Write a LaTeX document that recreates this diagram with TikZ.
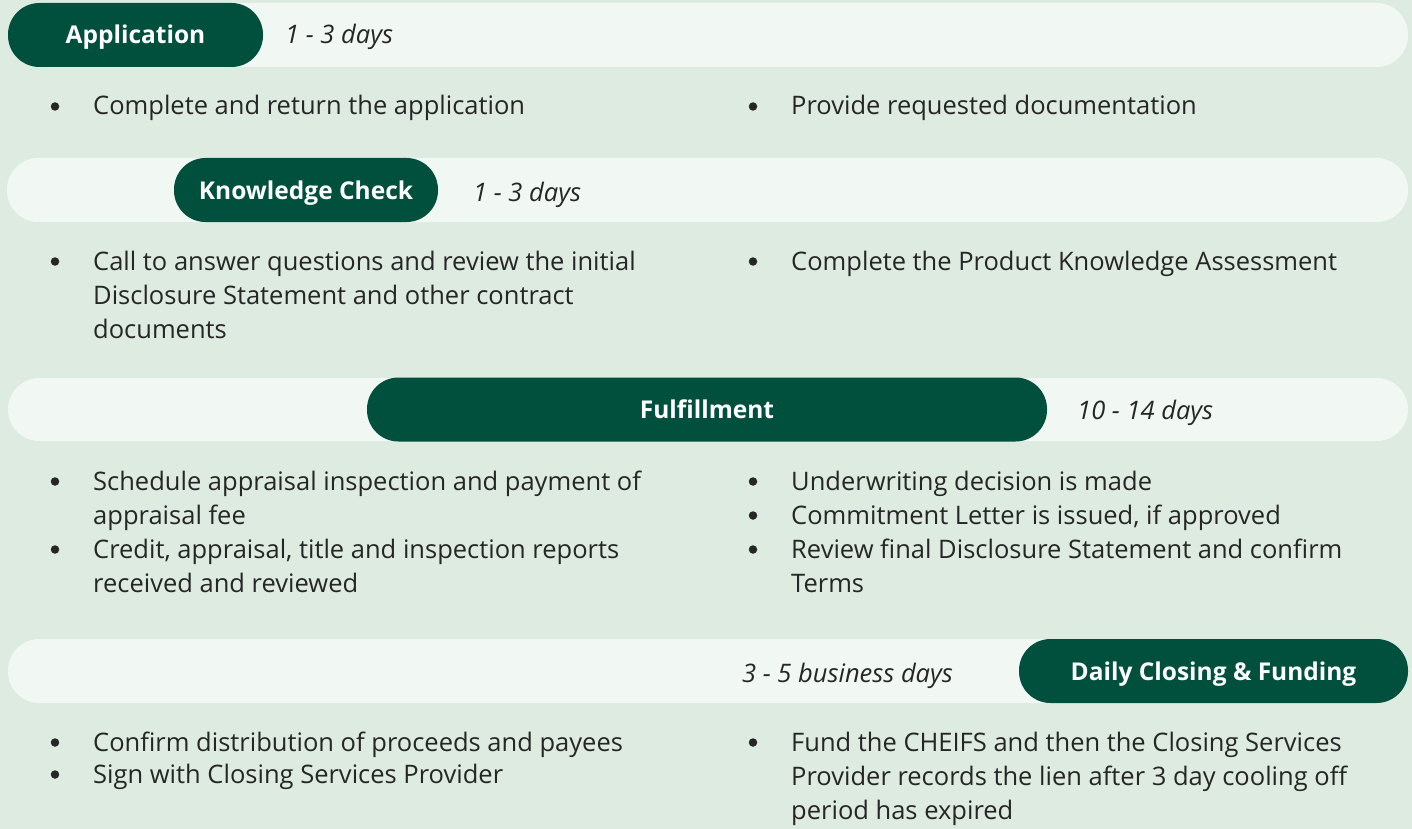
\documentclass[tikz,border=0pt]{standalone}
\usepackage{fontspec}
\setmainfont{Open Sans}
\definecolor{bgc}{RGB}{222,235,225}
\definecolor{barc}{RGB}{241,248,243}
\definecolor{pillc}{RGB}{0,80,61}
\definecolor{txtc}{RGB}{38,38,38}
\newcommand\twolines[2]{\vtop{\hbox{#1}\hbox{#2}}}
\newcommand\threelines[3]{\vtop{\hbox{#1}\hbox{#2}\hbox{#3}}}
\begin{document}
\begin{tikzpicture}[x=1pt,y=-1pt,
  bar/.style={fill=barc, rounded corners=31.5pt},
  pill/.style={fill=pillc, rounded corners=31.5pt, minimum height=64pt, inner sep=0pt, text height=18pt, text depth=0pt, text=white, font=\fontsize{24.5}{30}\selectfont\bfseries},
  dur/.style={anchor=base west, inner sep=0pt, text=txtc, font=\fontsize{25.5}{30}\selectfont\itshape},
  item/.style={anchor=base west, inner sep=0pt, text=txtc, font=\fontsize{25.5}{34}\selectfont},
  dot/.style={circle, fill=txtc, minimum size=8.5pt, inner sep=0pt}]
\fill[bgc] (0,0) rectangle (1412,829);
\useasboundingbox (0,0) rectangle (1412,829);
% bars
\fill[bar] (8,3) rectangle (1408,67);
\fill[bar] (7,158) rectangle (1408,222);
\fill[bar] (8,378) rectangle (1408,441);
\fill[bar] (8,639) rectangle (1408,703);
% pills
\node[pill, minimum width=255pt] (p1) at (135.5,35) {Application};
\node[pill, minimum width=264pt] (p2) at (306,190) {Knowledge Check};
\node[pill, minimum width=680pt] (p3) at (707,409.5) {Fulfillment};
\node[pill, minimum width=389pt] (p4) at (1213.5,671) {Daily Closing \& Funding};
% durations
\node[dur] (d1) at (285,44) {1 - 3 days};
\node[dur] (d2) at (473,201) {1 - 3 days};
\node[dur] (d3) at (1077,419) {10 - 14 days};
\node[dur] (d4) at (742,682) {3 - 5 business days};
% row 1
\node[item] (a1) at (93,115) {Complete and return the application};
\node[item] (a2) at (791,115) {Provide requested documentation};
% row 2
\node[item] (b1) at (93,270) {\threelines{Call to answer questions and review the initial}{Disclosure Statement and other contract}{documents}};
\node[item] (b2) at (791,270) {Complete the Product Knowledge Assessment};
% row 3
\node[item] (c1) at (93,490) {\twolines{Schedule appraisal inspection and payment of}{appraisal fee}};
\node[item] (c2) at (93,558) {\twolines{Credit, appraisal, title and inspection reports}{received and reviewed}};
\node[item] (c3) at (791,490) {Underwriting decision is made};
\node[item] (c4) at (791,524) {Commitment Letter is issued, if approved};
\node[item] (c5) at (791,558) {\twolines{Review final Disclosure Statement and confirm}{Terms}};
% row 4
\node[item] (e1) at (93,751) {Confirm distribution of proceeds and payees};
\node[item] (e2) at (93,783) {Sign with Closing Services Provider};
\node[item] (e3) at (791,751) {\threelines{Fund the CHEIFS and then the Closing Services}{Provider records the lien after 3 day cooling off}{period has expired}};
% bullets
\foreach \n in {a1,a2,b1,b2,c1,c2,c3,c4,c5,e1,e2,e3}
  \node[dot] (bul-\n) at ([xshift=-38pt,yshift=8.5pt]\n.base west) {};
\end{tikzpicture}
\end{document}
